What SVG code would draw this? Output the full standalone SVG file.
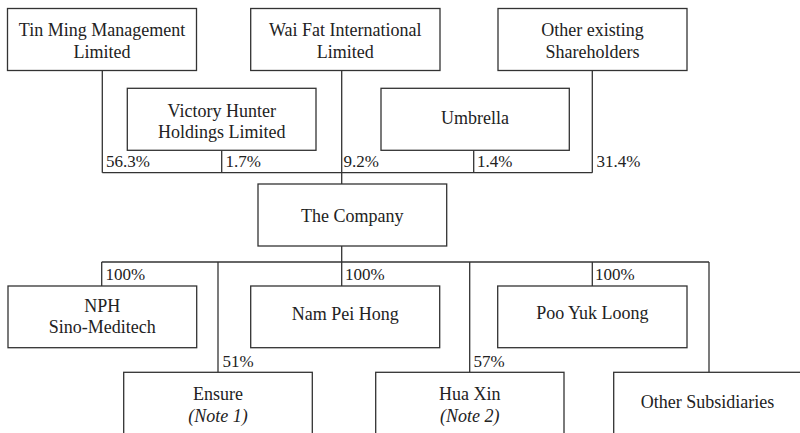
<svg xmlns="http://www.w3.org/2000/svg" width="800" height="433" viewBox="0 0 800 433">
<defs>
<style>
rect{fill:#fff;stroke:#333;stroke-width:1.3}
line{stroke:#333;stroke-width:1.3}
</style>
</defs>
<rect width="800" height="433" style="fill:#fff;stroke:none"/>
<g id="connectors">
<line x1="102.3" y1="70.7" x2="102.3" y2="172.7"/>
<line x1="221.7" y1="150.3" x2="221.7" y2="172.7"/>
<line x1="341.7" y1="70.7" x2="341.7" y2="184"/>
<line x1="473.7" y1="150.3" x2="473.7" y2="172.7"/>
<line x1="592.3" y1="70.7" x2="592.3" y2="172.7"/>
<line x1="102.3" y1="172.7" x2="592.3" y2="172.7"/>
<line x1="341.7" y1="246" x2="341.7" y2="286"/>
<line x1="101.7" y1="262" x2="709" y2="262"/>
<line x1="101.7" y1="262" x2="101.7" y2="286"/>
<line x1="592.3" y1="262" x2="592.3" y2="286"/>
<line x1="218" y1="262" x2="218" y2="372.3"/>
<line x1="469.7" y1="262" x2="469.7" y2="372.3"/>
<line x1="709" y1="262" x2="709" y2="372.3"/>
<text font-family="Liberation Serif" font-size="17" fill="#222" x="106" y="166.5">56.3%</text>
<text font-family="Liberation Serif" font-size="17" fill="#222" x="225.5" y="166.5">1.7%</text>
<text font-family="Liberation Serif" font-size="17" fill="#222" x="343.5" y="166.5">9.2%</text>
<text font-family="Liberation Serif" font-size="17" fill="#222" x="477" y="166.5">1.4%</text>
<text font-family="Liberation Serif" font-size="17" fill="#222" x="596.5" y="166.5">31.4%</text>
<text font-family="Liberation Serif" font-size="17" fill="#222" x="105.5" y="279.5">100%</text>
<text font-family="Liberation Serif" font-size="17" fill="#222" x="345" y="279.5">100%</text>
<text font-family="Liberation Serif" font-size="17" fill="#222" x="595" y="279.5">100%</text>
<text font-family="Liberation Serif" font-size="17" fill="#222" x="222.5" y="366.5">51%</text>
<text font-family="Liberation Serif" font-size="17" fill="#222" x="473.5" y="366.5">57%</text>
</g>
<g id="tinming"><rect x="7.5" y="8.5" width="189" height="62"/><text font-family="Liberation Serif" font-size="18" fill="#222" text-anchor="middle" x="102" y="36">Tin Ming Management</text><text font-family="Liberation Serif" font-size="18" fill="#222" text-anchor="middle" x="102" y="57.5">Limited</text></g>
<g id="waifat"><rect x="250.7" y="8.5" width="189.3" height="62"/><text font-family="Liberation Serif" font-size="18" fill="#222" text-anchor="middle" x="345.3" y="36">Wai Fat International</text><text font-family="Liberation Serif" font-size="18" fill="#222" text-anchor="middle" x="345.3" y="57.5">Limited</text></g>
<g id="other"><rect x="498" y="8.5" width="189" height="62"/><text font-family="Liberation Serif" font-size="18" fill="#222" text-anchor="middle" x="592.5" y="36">Other existing</text><text font-family="Liberation Serif" font-size="18" fill="#222" text-anchor="middle" x="592.5" y="57.5">Shareholders</text></g>
<g id="victory"><rect x="127.3" y="88.3" width="188.7" height="62"/><text font-family="Liberation Serif" font-size="18" fill="#222" text-anchor="middle" x="221.7" y="116.5">Victory Hunter</text><text font-family="Liberation Serif" font-size="18" fill="#222" text-anchor="middle" x="221.7" y="137.7">Holdings Limited</text></g>
<g id="umbrella"><rect x="381" y="88.3" width="188.3" height="62"/><text font-family="Liberation Serif" font-size="18" fill="#222" text-anchor="middle" x="475" y="123.5">Umbrella</text></g>
<g id="company"><rect x="258" y="184" width="188.7" height="62"/><text font-family="Liberation Serif" font-size="18" fill="#222" text-anchor="middle" x="352.3" y="221.7">The Company</text></g>
<g id="nph"><rect x="8" y="286" width="188.7" height="61.7"/><text font-family="Liberation Serif" font-size="18" fill="#222" text-anchor="middle" x="102.3" y="311.7">NPH</text><text font-family="Liberation Serif" font-size="18" fill="#222" text-anchor="middle" x="102.3" y="332.7">Sino-Meditech</text></g>
<g id="nampeihong"><rect x="250.7" y="286" width="189" height="61.7"/><text font-family="Liberation Serif" font-size="18" fill="#222" text-anchor="middle" x="345.2" y="320">Nam Pei Hong</text></g>
<g id="pooyukloong"><rect x="497.7" y="286" width="189.3" height="61.7"/><text font-family="Liberation Serif" font-size="18" fill="#222" text-anchor="middle" x="592.3" y="318.5">Poo Yuk Loong</text></g>
<g id="ensure"><rect x="123.7" y="372.3" width="188.6" height="70"/><text font-family="Liberation Serif" font-size="18" fill="#222" text-anchor="middle" x="218" y="400">Ensure</text><text font-family="Liberation Serif" font-size="18" font-style="italic" fill="#222" text-anchor="middle" x="218" y="421.7">(Note 1)</text></g>
<g id="huaxin"><rect x="375.7" y="372.3" width="188.3" height="70"/><text font-family="Liberation Serif" font-size="18" fill="#222" text-anchor="middle" x="469.8" y="400">Hua Xin</text><text font-family="Liberation Serif" font-size="18" font-style="italic" fill="#222" text-anchor="middle" x="469.8" y="421.7">(Note 2)</text></g>
<g id="othersubs"><rect x="613.7" y="372.3" width="189.3" height="70"/><text font-family="Liberation Serif" font-size="18" fill="#222" text-anchor="middle" x="707.5" y="407.7">Other Subsidiaries</text></g>
</svg>
